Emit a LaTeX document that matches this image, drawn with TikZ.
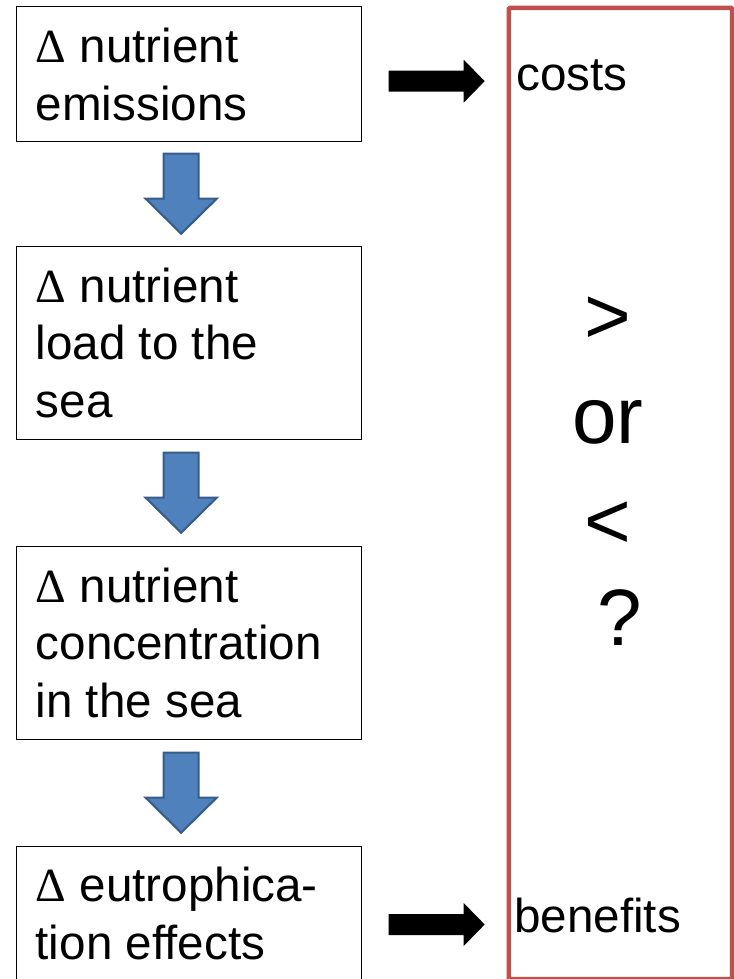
\documentclass[tikz,border=0pt]{standalone}
\usepackage{fontspec}
\setmainfont{Liberation Sans}
\newfontfamily\deltafont{Liberation Serif}
\usetikzlibrary{calc}
\definecolor{boxred}{HTML}{C0504D}
\definecolor{arrfill}{HTML}{4F81BD}
\definecolor{arrline}{HTML}{385D8A}
\newcommand{\Dl}{{\deltafont Δ}}
\begin{document}
\begin{tikzpicture}[x=0.75pt,y=-0.75pt,
  flowbox/.style={draw=black, line width=1pt, fill=white, anchor=north west,
    minimum width=258.75pt, inner sep=0pt},
  boxtext/.style={anchor=base west, inner sep=0pt, align=left,
    font=\fontsize{35.7}{43}\selectfont},
  sidetext/.style={anchor=base west, inner sep=0pt, font=\fontsize{35.7}{43}\selectfont},
  bigtext/.style={anchor=base, inner sep=0pt, font=\fontsize{60}{76}\selectfont},
  redbox/.style={draw=boxred, line width=3.4pt, rounded corners=1pt, anchor=north west, inner sep=0pt},
  bluearr/.style={fill=arrfill, draw=arrline, line width=1.6pt, line join=miter},
  blackarr/.style={fill=black, draw=none}
]
\path[use as bounding box, clip] (0,0) rectangle (734,979);

% right frame
\node[redbox, minimum width=167.6pt, minimum height=728.6pt] (red) at (506.5,5.5) {};

% flow boxes
\node[flowbox, minimum height=101.25pt] (b1) at (15.5,5.5) {};
\node[flowbox, minimum height=144.75pt] (b2) at (15.5,245.5) {};
\node[flowbox, minimum height=144.75pt] (b3) at (15.5,545.5) {};
\node[flowbox, minimum height=144.75pt] (b4) at (15.5,845.5) {};

% texts (anchored at the baseline of their last line)
\node[boxtext] (t1) at (35.5,120) {\Dl{} nutrient\\emissions};
\node[boxtext] (t2) at (35.5,417) {\Dl{} nutrient\\load to the\\sea};
\node[boxtext] (t3) at (35.5,717) {\Dl{} nutrient\\concentration\\in the sea};
\node[boxtext] (t4) at (35.5,959) {\Dl{} eutrophica-\\tion effects};

% blue block arrows between boxes
\coordinate (m1) at ($(b1.south)!0.5!(b2.north)+(-7.5,0)$);
\coordinate (m2) at ($(b2.south)!0.5!(b3.north)+(-7.5,0)$);
\coordinate (m3) at ($(b3.south)!0.5!(b4.north)+(-7.5,0)$);
\foreach \m in {m1,m2,m3}{
  \draw[bluearr, shift={(\m)}] (-17.5,-40) -- (17.5,-40) -- (17.5,5) -- (35.5,5)
    -- (0,40) -- (-35.5,5) -- (-17.5,5) -- cycle;
}

% black arrows to costs / benefits
\coordinate (k1) at ($(b1.east)!0.5!(red.west |- b1.east)+(2.5,7.5)$);
\coordinate (k2) at ($(k1 |- red.south)+(0,-57)$);
\foreach \k in {k1,k2}{
  \fill[blackarr, shift={(\k)}] (-48,-10.5) -- (27,-10.5) -- (27,-21.5) -- (48,0)
    -- (27,21.5) -- (27,10.5) -- (-48,10.5) -- cycle;
}

\node[sidetext] (costs) at (516,90) {costs};
\node[sidetext] (benefits) at (514,932) {benefits};

% comparison
\node[bigtext] (gt) at (608,343) {>};
\node[bigtext] (or) at (608,443) {or};
\node[bigtext] (lt) at (608,548) {<};
\node[bigtext] (q) at (620,645) {?};
\end{tikzpicture}
\end{document}
